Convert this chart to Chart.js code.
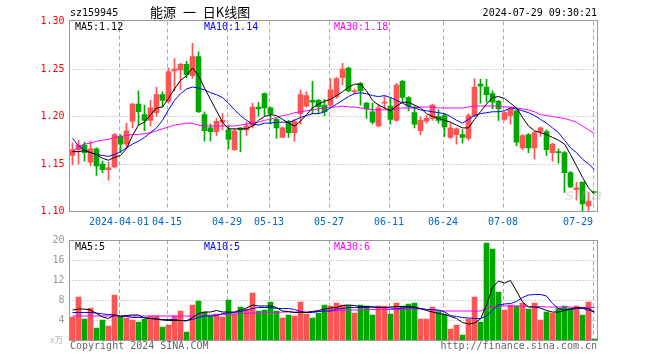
<!DOCTYPE html>
<html>
<head>
<meta charset="utf-8">
<script src="https://cdn.jsdelivr.net/npm/chart.js@4.4.1/dist/chart.umd.min.js"></script>
<style>
body { margin: 0; background: #fff; }
#wrap { position: relative; width: 660px; height: 360px; overflow: hidden; font-family: 'DejaVu Sans Mono', monospace; font-size: 10px; }
canvas { position: absolute; left: 0; top: 0; }
.t { position: absolute; white-space: pre; line-height: 10px; }
</style>
</head>
<body>
<div id="wrap">
  <canvas id="price" width="660" height="360"></canvas>
  <canvas id="vol" width="660" height="360"></canvas>
  <div class="t" style="left:70px;top:8px;color:#000">sz159945</div>
  <div class="t" style="left:150px;top:5px;font:13px 'Noto Sans CJK SC';line-height:13px;color:#000;word-spacing:4px">能源 一 日K线图</div>
  <div class="t" style="right:63px;top:8px;color:#000">2024-07-29 09:30:21</div>
  <div class="t" style="left:75px;top:21.5px;color:#000">MA5:1.12</div>
  <div class="t" style="left:204px;top:21.5px;color:#00f">MA10:1.14</div>
  <div class="t" style="left:334px;top:21.5px;color:#f0f">MA30:1.18</div>
  <div class="t" style="left:75px;top:241.5px;color:#000">MA5:5</div>
  <div class="t" style="left:204px;top:241.5px;color:#00f">MA10:5</div>
  <div class="t" style="left:334px;top:241.5px;color:#f0f">MA30:6</div>
  <div class="t" style="left:50px;top:335px;color:#bbb;font:9px 'Noto Sans CJK SC';line-height:9px">x万</div>
  <div class="t" style="left:70px;top:340.5px;color:#666">Copyright 2024 SINA.COM</div>
  <div class="t" style="right:63px;top:340.5px;color:#666">http://finance.sina.com.cn</div>
  <div class="t" style="left:565px;top:187px;color:rgba(170,170,170,0.3);font:italic bold 16px 'DejaVu Sans';line-height:16px">sina</div>
</div>
<script>
// trading days shown (2024-03-20 .. 2024-07-29)
var dates = [
  '2024-03-20','2024-03-21','2024-03-22','2024-03-25','2024-03-26','2024-03-27','2024-03-28','2024-03-29',
  '2024-04-01','2024-04-02','2024-04-03','2024-04-08','2024-04-09','2024-04-10','2024-04-11','2024-04-12',
  '2024-04-15','2024-04-16','2024-04-17','2024-04-18','2024-04-19','2024-04-22','2024-04-23','2024-04-24','2024-04-25','2024-04-26',
  '2024-04-29','2024-04-30','2024-05-06','2024-05-07','2024-05-08','2024-05-09','2024-05-10',
  '2024-05-13','2024-05-14','2024-05-15','2024-05-16','2024-05-17','2024-05-20','2024-05-21','2024-05-22','2024-05-23','2024-05-24',
  '2024-05-27','2024-05-28','2024-05-29','2024-05-30','2024-05-31','2024-06-03','2024-06-04','2024-06-05','2024-06-06','2024-06-07',
  '2024-06-11','2024-06-12','2024-06-13','2024-06-14','2024-06-17','2024-06-18','2024-06-19','2024-06-20','2024-06-21',
  '2024-06-24','2024-06-25','2024-06-26','2024-06-27','2024-06-28','2024-07-01','2024-07-02','2024-07-03','2024-07-04','2024-07-05',
  '2024-07-08','2024-07-09','2024-07-10','2024-07-11','2024-07-12','2024-07-15','2024-07-16','2024-07-17','2024-07-18','2024-07-19',
  '2024-07-22','2024-07-23','2024-07-24','2024-07-25','2024-07-26','2024-07-29'
];

var open = [
  1.159,1.165,1.170,1.152,1.166,1.150,1.144,1.147,1.179,1.171,1.195,1.213,1.202,1.196,1.204,1.223,1.216,1.248,1.249,1.255,1.243,1.263,
  1.202,1.188,1.184,1.194,1.186,1.165,1.188,1.186,1.190,1.210,1.224,1.209,1.197,1.178,1.195,1.183,1.203,1.211,1.217,1.217,1.212,1.212,
  1.221,1.241,1.251,1.226,1.235,1.214,1.205,1.190,1.214,1.211,1.196,1.237,1.220,1.204,1.185,1.195,1.198,1.200,1.201,1.178,1.181,1.181,
  1.177,1.201,1.234,1.231,1.224,1.216,1.197,1.201,1.206,1.167,1.181,1.167,1.184,1.184,1.162,1.163,1.162,1.141,1.123,1.131,1.106,1.121
];
var high = [
  1.172,1.175,1.173,1.174,1.167,1.153,1.152,1.182,1.181,1.193,1.214,1.227,1.212,1.217,1.231,1.226,1.251,1.261,1.256,1.258,1.277,1.268,
  1.205,1.192,1.198,1.203,1.191,1.187,1.188,1.194,1.214,1.215,1.225,1.210,1.198,1.189,1.196,1.197,1.228,1.226,1.237,1.218,1.218,1.240,
  1.241,1.256,1.252,1.229,1.236,1.215,1.214,1.213,1.222,1.220,1.235,1.238,1.221,1.211,1.200,1.201,1.213,1.207,1.203,1.193,1.188,1.186,
  1.203,1.240,1.239,1.239,1.227,1.217,1.205,1.209,1.207,1.181,1.182,1.184,1.189,1.186,1.172,1.166,1.163,1.142,1.131,1.131,1.120,1.121
];
var low = [
  1.149,1.150,1.153,1.148,1.138,1.141,1.133,1.146,1.162,1.168,1.188,1.191,1.185,1.190,1.200,1.210,1.214,1.227,1.228,1.241,1.240,1.204,
  1.174,1.174,1.180,1.186,1.166,1.164,1.163,1.180,1.188,1.200,1.201,1.192,1.177,1.178,1.178,1.174,1.192,1.210,1.203,1.203,1.201,1.211,
  1.219,1.233,1.226,1.224,1.212,1.198,1.192,1.189,1.208,1.192,1.195,1.215,1.206,1.188,1.181,1.193,1.196,1.193,1.179,1.177,1.171,1.172,
  1.175,1.200,1.214,1.215,1.208,1.196,1.196,1.192,1.169,1.165,1.162,1.155,1.179,1.159,1.153,1.151,1.120,1.125,1.112,1.101,1.100,1.120
];
var close = [
  1.165,1.170,1.162,1.166,1.148,1.144,1.146,1.181,1.171,1.185,1.213,1.205,1.196,1.209,1.223,1.217,1.247,1.250,1.255,1.244,1.263,1.205,
  1.185,1.184,1.195,1.196,1.176,1.185,1.186,1.190,1.210,1.208,1.209,1.203,1.188,1.188,1.183,1.195,1.223,1.222,1.215,1.210,1.205,1.228,
  1.240,1.250,1.227,1.227,1.227,1.208,1.194,1.209,1.215,1.197,1.233,1.220,1.211,1.192,1.196,1.198,1.212,1.196,1.189,1.188,1.187,1.178,
  1.201,1.231,1.232,1.223,1.215,1.208,1.204,1.208,1.173,1.180,1.167,1.183,1.188,1.165,1.171,1.162,1.141,1.126,1.125,1.108,1.111,1.120
];

var ma5 = [
  1.163,1.163,1.164,1.162,1.160,1.156,1.154,1.157,1.159,1.166,1.180,1.191,1.194,1.202,1.209,1.210,1.219,1.229,1.238,1.243,1.251,1.243,
  1.230,1.218,1.206,1.194,1.187,1.187,1.187,1.187,1.190,1.196,1.200,1.202,1.201,1.197,1.193,1.190,1.195,1.202,1.209,1.213,1.216,1.218,
  1.222,1.226,1.231,1.234,1.234,1.227,1.217,1.212,1.209,1.206,1.211,1.215,1.215,1.212,1.209,1.203,1.200,1.198,1.196,1.194,1.191,1.188,
  1.188,1.197,1.205,1.213,1.220,1.221,1.219,1.214,1.209,1.199,1.190,1.185,1.183,1.181,1.178,1.175,1.171,1.160,1.148,1.136,1.125,1.118
];
var ma10 = [
  1.177,1.169,1.165,1.162,1.160,1.159,1.158,1.160,1.163,1.167,1.171,1.174,1.178,1.183,1.188,1.196,1.207,1.217,1.224,1.229,1.231,1.230,
  1.228,1.225,1.223,1.220,1.214,1.207,1.201,1.196,1.192,1.191,1.193,1.193,1.194,1.194,1.194,1.196,1.199,1.201,1.203,1.203,1.205,1.209,
  1.213,1.217,1.221,1.224,1.225,1.224,1.222,1.221,1.222,1.220,1.217,1.214,1.211,1.209,1.207,1.206,1.205,1.204,1.203,1.200,1.196,1.193,
  1.197,1.201,1.203,1.204,1.205,1.205,1.206,1.209,1.208,1.206,1.204,1.201,1.197,1.193,1.188,1.183,1.175,1.167,1.162,1.155,1.150,1.144
];
var ma30 = [
  1.163,1.168,1.171,1.172,1.174,1.175,1.176,1.178,1.179,1.180,1.181,1.181,1.182,1.183,1.185,1.187,1.189,1.191,1.192,1.193,1.193,1.191,
  1.190,1.190,1.190,1.190,1.190,1.190,1.191,1.192,1.193,1.194,1.196,1.197,1.199,1.201,1.202,1.204,1.205,1.206,1.207,1.208,1.209,1.210,
  1.210,1.211,1.210,1.210,1.209,1.208,1.207,1.207,1.207,1.207,1.208,1.209,1.209,1.209,1.210,1.210,1.210,1.209,1.209,1.209,1.209,1.209,
  1.210,1.211,1.211,1.211,1.211,1.211,1.210,1.210,1.209,1.208,1.207,1.205,1.202,1.201,1.200,1.199,1.198,1.196,1.194,1.190,1.186,1.182
];

// volume, in 万
var vol = [
  4.6,8.6,4.2,6.4,2.4,4.0,2.8,9.0,4.6,4.4,4.0,3.6,4.2,4.8,4.8,2.6,3.0,4.8,5.8,1.6,7.0,7.8,
  5.6,4.8,5.2,4.6,8.0,5.2,6.6,6.2,9.4,5.8,6.0,7.6,5.8,4.4,5.0,4.8,7.6,5.2,4.4,5.4,7.0,6.8,
  7.4,7.0,6.9,5.4,7.0,6.8,5.0,6.8,6.8,5.2,7.4,6.8,7.2,7.4,4.2,4.2,6.6,5.7,5.2,2.2,3.0,1.0,
  4.2,8.6,3.6,19.4,18.2,9.6,6.0,7.0,6.8,7.4,6.2,7.4,4.0,5.6,5.4,6.4,6.8,6.4,6.8,5.0,7.6,0.2
];
var volMa5 = [
  6.0,6.2,6.2,6.0,5.3,4.6,4.3,5.0,4.7,4.9,5.0,5.0,4.4,4.3,4.2,4.0,3.9,3.9,3.9,3.8,4.5,5.3,
  5.6,5.6,5.9,5.6,5.6,5.6,6.0,6.4,7.0,6.8,6.8,6.8,6.5,5.8,5.7,5.5,5.5,5.5,5.7,5.9,6.2,6.4,
  6.5,6.9,7.0,6.9,6.7,6.7,6.6,6.5,6.5,6.6,6.7,6.7,6.7,6.6,6.3,5.9,5.6,5.3,5.1,4.7,4.3,3.5,
  3.2,3.4,4.2,7.0,10.5,11.8,11.4,11.9,9.8,7.6,6.6,6.6,6.4,5.9,5.6,5.6,5.9,6.2,6.5,6.4,6.3,5.6
];
var volMa10 = [
  5.5,5.5,5.5,5.5,5.4,5.2,5.1,5.0,4.8,4.7,4.5,4.5,4.5,4.3,4.2,4.1,4.1,4.1,3.9,3.9,4.1,4.5,
  4.8,4.8,4.9,5.3,5.4,5.5,5.7,6.0,6.3,6.5,6.5,6.5,6.3,6.3,6.3,6.1,5.7,5.5,5.5,5.7,5.8,5.8,
  6.2,6.3,6.5,6.5,6.5,6.5,6.6,6.6,6.5,6.4,6.3,6.4,6.5,6.4,6.3,6.1,6.1,6.0,5.6,4.9,4.7,4.5,
  4.4,4.3,4.3,4.8,6.0,7.0,7.2,7.3,7.7,8.5,9.0,9.1,9.1,8.8,7.3,6.3,6.0,6.1,6.3,6.3,6.0,5.6
];
var volMa30 = [
  4.8,4.8,4.8,4.8,4.8,4.8,4.8,4.8,4.8,4.8,4.8,4.8,4.8,4.8,4.8,4.8,4.8,4.8,4.8,4.8,4.8,4.9,
  4.9,5.0,5.0,5.1,5.1,5.2,5.3,5.3,5.4,5.4,5.5,5.5,5.5,5.6,5.6,5.6,5.6,5.6,5.7,5.7,5.8,5.8,
  5.9,5.9,6.0,6.0,6.0,6.1,6.1,6.1,6.1,6.1,6.1,6.1,6.2,6.2,6.2,6.1,6.0,5.9,5.8,5.8,5.8,5.8,
  5.8,5.8,5.8,6.4,6.7,6.8,6.8,6.8,6.8,6.8,6.7,6.7,6.7,6.6,6.6,6.6,6.6,6.6,6.5,6.5,6.5,6.5
];

var tickDates = ['2024-04-01','2024-04-15','2024-04-29','2024-05-13','2024-05-27','2024-06-11','2024-06-24','2024-07-08','2024-07-29'];
var tickLabels = ['2024-04-01','04-15','04-29','05-13','05-27','06-11','06-24','07-08','07-29'];
var priceTicks = [1.10, 1.15, 1.20, 1.25, 1.30];
var volTicks = [4, 8, 12, 16, 20];

var RED = '#ff5454';
var GREEN = '#00a800';
var MONO = "'DejaVu Sans Mono', monospace";

var candleColor = close.map(function(c, i){ return c >= open[i] ? RED : GREEN; });

function maLine(label, data, color){
  return { type: 'line', label: label, data: data, borderColor: color, borderWidth: 1,
           pointRadius: 0, tension: 0, fill: false, order: 0 };
}

// grid, frame and date labels
var panel = {
  id: 'panel',
  beforeDatasetsDraw: function(chart, args, opts){
    var ctx = chart.ctx, a = chart.chartArea, x = chart.scales.x, y = chart.scales.y;
    ctx.save();
    ctx.strokeStyle = '#aaa';
    ctx.lineWidth = 1;
    ctx.setLineDash([1, 2]);
    opts.hLines.forEach(function(v){
      var py = Math.floor(y.getPixelForValue(v)) + 0.5;
      ctx.beginPath(); ctx.moveTo(a.left, py); ctx.lineTo(a.right, py); ctx.stroke();
    });
    ctx.setLineDash([4, 3]);
    tickDates.forEach(function(d){
      var px = Math.round(x.getPixelForValue(dates.indexOf(d)) - 2) + 0.5;
      ctx.beginPath(); ctx.moveTo(px, a.top); ctx.lineTo(px, a.bottom); ctx.stroke();
    });
    ctx.restore();
  },
  afterDraw: function(chart, args, opts){
    var ctx = chart.ctx, a = chart.chartArea, x = chart.scales.x;
    ctx.save();
    ctx.strokeStyle = '#999';
    ctx.lineWidth = 1;
    ctx.strokeRect(a.left, opts.frameTop, a.right - a.left, opts.frameBottom - opts.frameTop);
    if (opts.dateLabels) {
      ctx.font = '10px ' + MONO;
      ctx.fillStyle = '#0066cc';
      ctx.textBaseline = 'alphabetic';
      tickDates.forEach(function(d, k){
        var px = Math.round(x.getPixelForValue(dates.indexOf(d)) - 2);
        ctx.textAlign = (k === tickDates.length - 1) ? 'right' : 'center';
        ctx.fillText(tickLabels[k], px, 225);
      });
    }
    ctx.restore();
  }
};

function yAxis(min, max, ticks, color, fmt){
  return {
    position: 'left', min: min, max: max,
    grid: { display: false, drawTicks: false },
    border: { display: false },
    afterFit: function(s){ s.width = 69.5; },
    afterBuildTicks: function(s){ s.ticks = ticks.map(function(v){ return { value: v }; }); },
    ticks: { color: color, padding: 5, font: { family: MONO, size: 10 }, callback: fmt }
  };
}

window.onload = function(){
  new Chart(document.getElementById('price'), {
    type: 'bar',
    data: {
      labels: dates,
      datasets: [
        maLine('MA5', ma5, '#000'),
        maLine('MA10', ma10, '#00f'),
        maLine('MA30', ma30, '#f0f'),
        { label: 'body', data: open.map(function(o, i){ return [o, close[i]]; }),
          backgroundColor: candleColor, barThickness: 5, minBarLength: 1, grouped: false, order: 1 },
        { label: 'wick', data: low.map(function(l, i){ return [l, high[i]]; }),
          backgroundColor: candleColor, barThickness: 1, grouped: false, order: 2 }
      ]
    },
    options: {
      responsive: false, animation: false, events: [],
      layout: { padding: { top: 21.5, bottom: 148.5, left: 0, right: 62.5 } },
      plugins: {
        legend: { display: false }, tooltip: { enabled: false },
        panel: { hLines: [1.15, 1.20, 1.25], frameTop: 20.5, frameBottom: 211.5, dateLabels: true }
      },
      scales: {
        x: { display: false, offset: true },
        y: yAxis(1.10, 1.30, priceTicks, '#f00', function(v){ return Number(v).toFixed(2); })
      }
    },
    plugins: [panel]
  });

  new Chart(document.getElementById('vol'), {
    type: 'bar',
    data: {
      labels: dates,
      datasets: [
        maLine('MA5', volMa5, '#000'),
        maLine('MA10', volMa10, '#00f'),
        maLine('MA30', volMa30, '#f0f'),
        { label: 'volume', data: vol, backgroundColor: candleColor, barThickness: 5, order: 1 }
      ]
    },
    options: {
      responsive: false, animation: false, events: [],
      layout: { padding: { top: 240, bottom: 20, left: 0, right: 62.5 } },
      plugins: {
        legend: { display: false }, tooltip: { enabled: false },
        panel: { hLines: [4, 8, 12, 16], frameTop: 240.5, frameBottom: 340.5, dateLabels: false }
      },
      scales: {
        x: { display: false, offset: true },
        y: yAxis(0, 20, volTicks, '#999', function(v){ return String(v); })
      }
    },
    plugins: [panel]
  });
};
</script>
</body>
</html>
